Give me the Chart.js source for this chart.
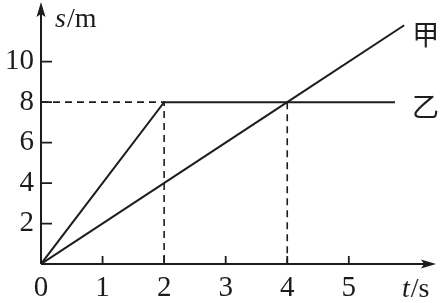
<!DOCTYPE html>
<html>
<head>
<meta charset="utf-8">
<script src="https://cdn.jsdelivr.net/npm/chart.js@4/dist/chart.umd.min.js"></script>
<style>
  body { margin: 0; background: #fff; }
  #wrap { width: 443px; height: 303px; position: relative; }
</style>
</head>
<body>
<div id="wrap"><canvas id="chart"></canvas></div>
<script>
// s-t graph: 甲 and 乙
var jiaT = [0, 4, 5.9];
var jiaS = [0, 8, 11.8];
var yiT = [0, 2, 5.75];
var yiS = [0, 8, 8];
// dashed guide lines (null breaks the line)
var guideT = [0, 2, 2, 4, 4, 4];
var guideS = [8, 8, 0, null, 8, 0];
var xTicks = [0, 1, 2, 3, 4, 5];
var yTicks = [2, 4, 6, 8, 10];

var INK = '#1c1c1c';
var SERIF = '"Liberation Serif", "DejaVu Serif", serif';

function pts(xs, ys) {
    return xs.map(function (x, i) { return { x: x, y: ys[i] }; });
}

var axesPlugin = {
    id: 'axes',
    afterDraw: function (chart) {
        var ctx = chart.ctx;
        var xs = chart.scales.x, ys = chart.scales.y;
        var x0 = xs.getPixelForValue(0), y0 = ys.getPixelForValue(0);
        var area = chart.chartArea;
        ctx.save();
        ctx.strokeStyle = INK;
        ctx.fillStyle = INK;
        ctx.lineWidth = 2;
        // axis lines
        ctx.beginPath();
        ctx.moveTo(x0, y0);
        ctx.lineTo(x0, area.top + 6);
        ctx.moveTo(x0, y0);
        ctx.lineTo(area.right - 4, y0);
        ctx.stroke();
        // arrows
        ctx.beginPath();
        ctx.moveTo(x0, area.top - 1);
        ctx.lineTo(x0 - 4.5, area.top + 14);
        ctx.lineTo(x0, area.top + 11);
        ctx.lineTo(x0 + 4.5, area.top + 14);
        ctx.closePath();
        ctx.fill();
        ctx.beginPath();
        ctx.moveTo(area.right + 1, y0);
        ctx.lineTo(area.right - 14, y0 - 4.5);
        ctx.lineTo(area.right - 11, y0);
        ctx.lineTo(area.right - 14, y0 + 4.5);
        ctx.closePath();
        ctx.fill();
        // tick marks, pointing inward
        ctx.lineWidth = 1.8;
        ctx.beginPath();
        xTicks.forEach(function (v) {
            if (v === 0) return;
            var px = xs.getPixelForValue(v);
            ctx.moveTo(px, y0);
            ctx.lineTo(px, y0 - 8);
        });
        yTicks.forEach(function (v) {
            var py = ys.getPixelForValue(v);
            ctx.moveTo(x0, py);
            ctx.lineTo(x0 + 11, py);
        });
        ctx.stroke();
        // axis titles
        ctx.textBaseline = 'alphabetic';
        ctx.textAlign = 'left';
        function title(parts, x, y) {
            parts.forEach(function (p) {
                ctx.font = (p[1] ? 'italic ' : '') + '28px ' + SERIF;
                ctx.fillText(p[0], x, y);
                x += ctx.measureText(p[0]).width + 1;
            });
        }
        title([['s', true], ['/m', false]], 55, 27);
        title([['t', true], ['/s', false]], 402, 297);
        // series labels
        ctx.font = '27px "Noto Sans CJK SC", sans-serif';
        ctx.textBaseline = 'middle';
        var mJia = chart.getDatasetMeta(0).data;
        var mYi = chart.getDatasetMeta(1).data;
        var lj = mJia[mJia.length - 1], ly = mYi[mYi.length - 1];
        ctx.fillText('甲', lj.x + 8, lj.y + 9);
        ctx.fillText('乙', ly.x + 17, ly.y + 5);
        ctx.restore();
    }
};

var lineStyle = { showLine: true, borderColor: INK, borderWidth: 2, pointRadius: 0, fill: false };

new Chart(document.getElementById('chart').getContext('2d'), {
    type: 'scatter',
    data: {
        datasets: [
            Object.assign({ label: '甲', data: pts(jiaT, jiaS) }, lineStyle),
            Object.assign({ label: '乙', data: pts(yiT, yiS) }, lineStyle),
            Object.assign({ label: 'guide', data: pts(guideT, guideS), spanGaps: false }, lineStyle, { borderWidth: 1.6, borderDash: [7, 5] })
        ]
    },
    options: {
        responsive: true,
        maintainAspectRatio: false,
        animation: false,
        layout: { padding: { top: 3, right: 8, left: 0, bottom: 0 } },
        plugins: { legend: { display: false }, tooltip: { enabled: false } },
        scales: {
            x: {
                type: 'linear', min: 0, max: 6.4,
                grid: { display: false, drawTicks: false },
                border: { display: false },
                afterFit: function (s) { s.height = 39; s.paddingLeft = 0; s.paddingRight = 0; },
                afterBuildTicks: function (s) { s.ticks = xTicks.map(function (v) { return { value: v }; }); },
                ticks: { color: INK, padding: 7, maxRotation: 0, autoSkip: false, font: { family: SERIF, size: 29 } }
            },
            y: {
                type: 'linear', min: 0, max: 12.9,
                grid: { display: false, drawTicks: false },
                border: { display: false },
                afterFit: function (s) { s.width = 41; s.paddingTop = 0; s.paddingBottom = 0; },
                afterBuildTicks: function (s) { s.ticks = yTicks.map(function (v) { return { value: v }; }); },
                ticks: { color: INK, padding: 7, autoSkip: false, font: { family: SERIF, size: 29 } }
            }
        }
    },
    plugins: [axesPlugin]
});
</script>
</body>
</html>
